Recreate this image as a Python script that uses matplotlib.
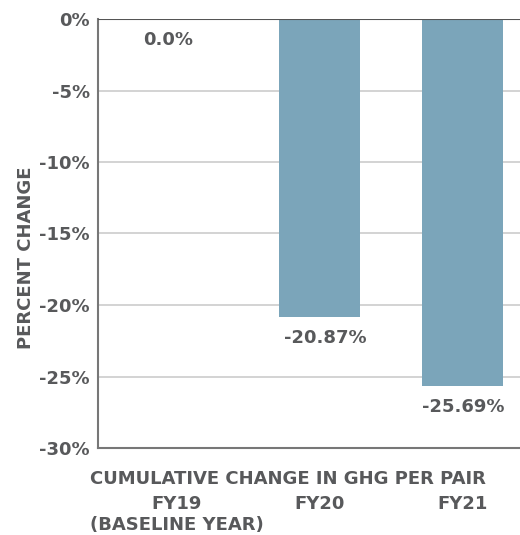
import matplotlib.pyplot as plt
import numpy as np

years = ["FY19", "FY20", "FY21"]
tick_labels = ["FY19\n(BASELINE YEAR)", "FY20", "FY21"]
pct_change = [0.0, -20.87, -25.69]
value_labels = ["0.0%", "-20.87%", "-25.69%"]
yticks = [0, -5, -10, -15, -20, -25, -30]

txt = "#58595b"
bar_col = "#7ba5ba"
fs = 13

plt.rcParams['font.family'] = ['DejaVu Sans']
plt.rcParams['font.weight'] = 'bold'

fig = plt.figure(figsize=(5.2, 5.35), dpi=100)
ax = fig.add_axes([98/520, 1-448/535, 1-98/520, (448-19)/535])

x = np.arange(len(years))
ax.bar(x, pct_change, width=0.567, color=bar_col, zorder=2)

ax.set_ylim(-30, 0)
ax.set_xlim(-0.552, 2.40)
ax.set_yticks(yticks)
ax.set_yticklabels([f"{t}%" for t in yticks], fontsize=fs, color=txt, fontweight='bold')
ax.tick_params(axis='y', length=0, pad=6)
ax.grid(axis='y', color='#d0d0d0', linewidth=1.3, zorder=0)
ax.axhline(0, color='#555555', linewidth=1.5, zorder=3)

for s in ['top', 'right']:
    ax.spines[s].set_visible(False)
for s in ['left', 'bottom']:
    ax.spines[s].set_color('#777777')
    ax.spines[s].set_linewidth(1.5)

# value labels just below each bar end
offsets = [-0.06, 0.04, 0.0]
for xi, v, lab, dx in zip(x, pct_change, value_labels, offsets):
    ax.annotate(lab, (xi + dx, v), xytext=(0, -15), textcoords='offset points',
                ha='center', va='center', fontsize=fs, color=txt, fontweight='bold')

ax.set_xticks(x)
ax.set_xticklabels(tick_labels, fontsize=fs, color=txt, fontweight='bold',
                   linespacing=1.2, va='top')
ax.tick_params(axis='x', length=0, pad=34)

ax.text(0.45, -0.072, "CUMULATIVE CHANGE IN GHG PER PAIR", transform=ax.transAxes,
        ha='center', va='center', fontsize=fs, color=txt, fontweight='bold')

ax.set_ylabel("PERCENT CHANGE", fontsize=fs, color=txt, fontweight='bold')
ax.yaxis.set_label_coords(-0.15, 0.443)

fig.savefig("out.png", dpi=100)
